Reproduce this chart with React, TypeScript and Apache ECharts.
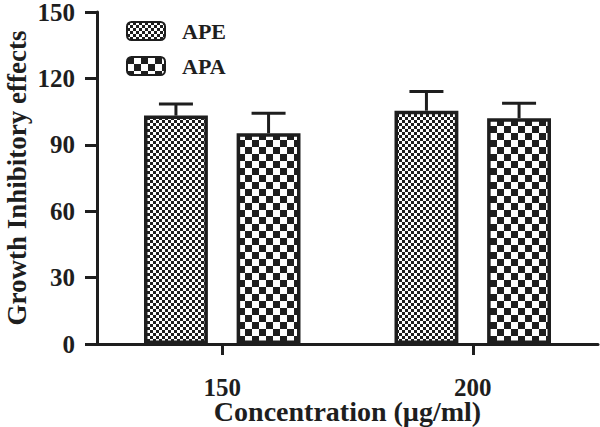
import React, { useEffect, useRef } from "react";
import * as echarts from "echarts";

const categories = ["150", "200"];
const seriesNames = ["APE", "APA"];
const apeMeans = [103.2, 105.4];
const apeErrors = [5.2, 8.7];
const apaMeans = [95.2, 102.0];
const apaErrors = [9.1, 6.8];
const yTicks = { min: 0, max: 150, interval: 30 };

const INK = "#1e1e1e";
const FONT = "Liberation Serif";

function checker(cell: number) {
  const size = cell * 2;
  const c = document.createElement("canvas");
  c.width = size;
  c.height = size;
  const ctx = c.getContext("2d")!;
  ctx.fillStyle = "#ffffff";
  ctx.fillRect(0, 0, size, size);
  ctx.fillStyle = INK;
  ctx.fillRect(0, 0, cell, cell);
  ctx.fillRect(cell, cell, cell, cell);
  return { image: c, repeat: "repeat", imageWidth: size, imageHeight: size } as any;
}

const BAR_FRAC = 0.255;
const GAP_FRAC = 0.45;

function errorSeries(means: number[], errs: number[], sign: number) {
  return {
    type: "custom",
    name: "err" + sign,
    z: 5,
    silent: true,
    data: means.map((m, i) => [i, m, errs[i]]),
    encode: { x: 0, y: 1 },
    renderItem: (params: any, api: any) => {
      const idx = api.value(0);
      const v = api.value(1);
      const e = api.value(2);
      const band = api.size([1, 0])[0];
      const offset = sign * ((BAR_FRAC * band) * (1 + GAP_FRAC)) / 2;
      const base = api.coord([idx, v]);
      const top = api.coord([idx, v + e]);
      const x = base[0] + offset;
      const half = 17;
      const style = { stroke: INK, lineWidth: 3, fill: null };
      return {
        type: "group",
        children: [
          { type: "line", shape: { x1: x, y1: base[1], x2: x, y2: top[1] }, style },
          { type: "line", shape: { x1: x - half, y1: top[1], x2: x + half, y2: top[1] }, style },
        ],
      };
    },
  };
}

export default function App() {
  const ref = useRef<HTMLDivElement>(null);
  useEffect(() => {
    if (!ref.current) return;
    const chart = echarts.init(ref.current, null, { renderer: "svg" });
    const fine = checker(3);
    const coarse = checker(7);
    chart.setOption({
      animation: false,
      backgroundColor: "#ffffff",
      grid: { left: 97, right: 2, top: 12, bottom: 83, containLabel: false, outerBoundsMode: "none" },
      legend: {
        orient: "vertical",
        left: 126,
        top: 20,
        padding: 0,
        itemWidth: 38,
        itemHeight: 18,
        itemGap: 13,
        data: seriesNames,
        selectedMode: false,
        textStyle: {
          fontFamily: FONT,
          fontWeight: "bold",
          fontSize: 22,
          color: INK,
          padding: [0, 0, 0, 12],
        },
      },
      xAxis: {
        type: "category",
        data: categories,
        name: "Concentration (µg/ml)",
        nameLocation: "middle",
        nameGap: 53,
        nameMoveOverlap: false,
        nameTextStyle: { fontFamily: FONT, fontWeight: "bold", fontSize: 28, color: INK },
        axisLine: { show: true, lineStyle: { color: INK, width: 3 } },
        axisTick: { show: true, alignWithLabel: true, length: 11, lineStyle: { color: INK, width: 3 } },
        axisLabel: { fontFamily: FONT, fontWeight: "bold", fontSize: 25, color: INK, margin: 31 },
        splitLine: { show: false },
      },
      yAxis: {
        type: "value",
        min: yTicks.min,
        max: yTicks.max,
        interval: yTicks.interval,
        name: "Growth Inhibitory effects",
        nameLocation: "middle",
        nameGap: 67,
        nameMoveOverlap: false,
        nameTextStyle: { fontFamily: FONT, fontWeight: "bold", fontSize: 27, color: INK },
        axisLine: { show: true, lineStyle: { color: INK, width: 3 } },
        axisTick: { show: true, length: 12, lineStyle: { color: INK, width: 3 } },
        axisLabel: { fontFamily: FONT, fontWeight: "bold", fontSize: 25, color: INK, margin: 22 },
        splitLine: { show: false },
      },
      series: [
        {
          type: "bar",
          name: seriesNames[0],
          data: apeMeans,
          barWidth: BAR_FRAC * 100 + "%",
          barGap: GAP_FRAC * 100 + "%",
          itemStyle: { color: fine, borderColor: INK, borderWidth: 3.5 },
        },
        {
          type: "bar",
          name: seriesNames[1],
          data: apaMeans,
          barWidth: BAR_FRAC * 100 + "%",
          barGap: GAP_FRAC * 100 + "%",
          itemStyle: { color: coarse, borderColor: INK, borderWidth: 3.5 },
        },
        errorSeries(apeMeans, apeErrors, -1),
        errorSeries(apaMeans, apaErrors, 1),
      ],
    });
    return () => chart.dispose();
  }, []);
  return (
    <div
      ref={ref}
      style={{ position: "fixed", left: 0, top: 0, width: 600, height: 427, background: "#fff" }}
    />
  );
}
